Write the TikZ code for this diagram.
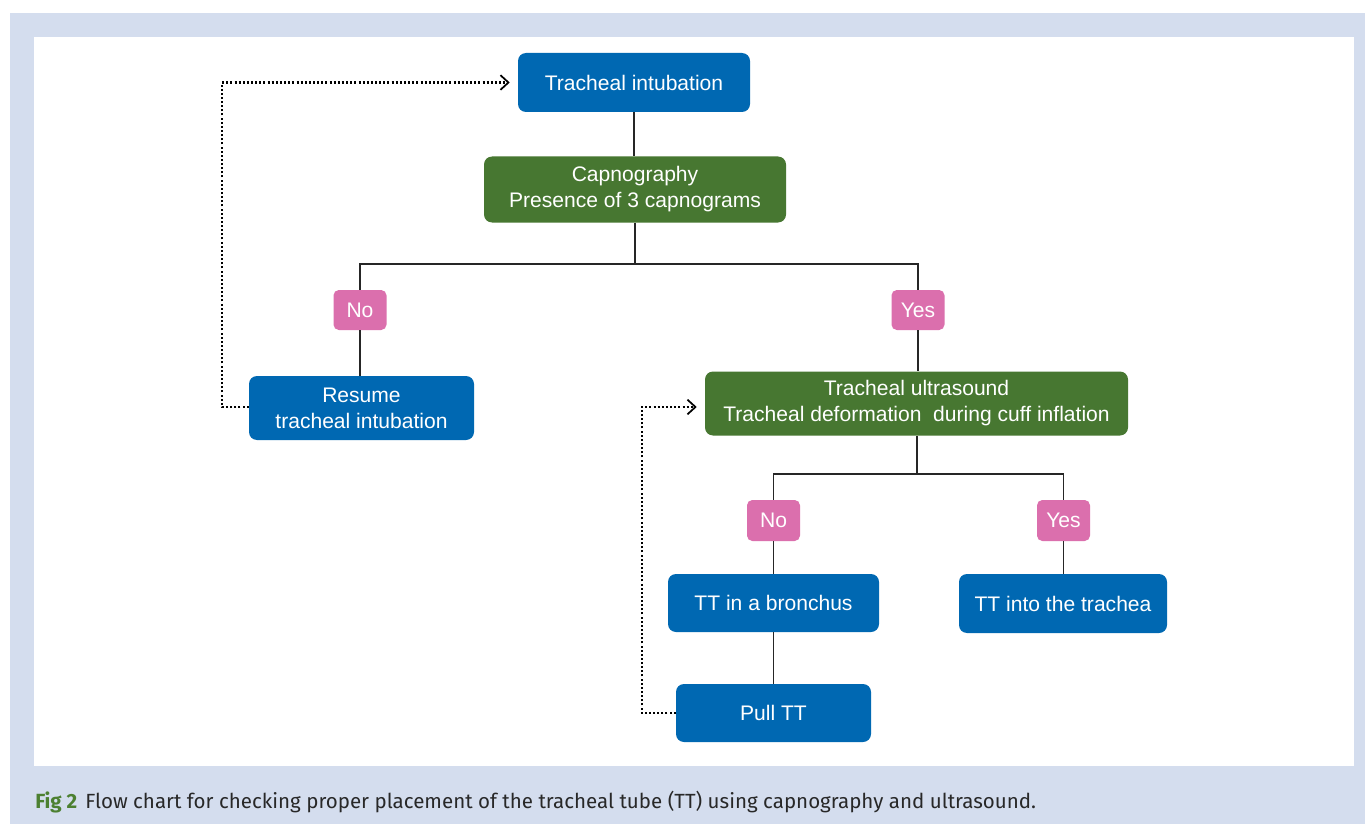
\documentclass[tikz,border=0pt]{standalone}
\usepackage{fontspec}
\setmainfont{Liberation Sans}
\newfontfamily\capfont{Fira Sans}
\usetikzlibrary{arrows.meta}
\definecolor{bgblue}{RGB}{212,221,238}
\definecolor{boxblue}{RGB}{0,104,178}
\definecolor{boxgreen}{RGB}{71,119,49}
\definecolor{boxpink}{RGB}{219,111,173}
\definecolor{figgreen}{RGB}{76,128,49}
\definecolor{captext}{RGB}{40,40,40}
\tikzset{
  box/.style={rounded corners=6pt, text=white, align=center, inner sep=0pt,
    font=\fontsize{15.8}{19.5}\selectfont},
  bluebox/.style={box, fill=boxblue},
  greenbox/.style={box, fill=boxgreen},
  twoline/.style={text depth=5pt},
  pinkbox/.style={box, fill=boxpink, rounded corners=4pt},
  link/.style={draw=black!85, line width=1.2pt},
  dotlink/.style={draw=black, line width=1.6pt, dash pattern=on 1.5pt off 1.6pt, -{Straight Barb[length=6pt,width=11pt,line width=1.3pt]}, shorten >=6pt}
}
\begin{document}
\begin{tikzpicture}[x=0.75pt,y=-0.75pt]
\useasboundingbox (0,0) rectangle (1365,824);
\fill[bgblue] (10,13) rectangle (1365,824);
\fill[white] (34,37) rectangle (1354,766);

\node[bluebox, minimum width=232*0.75pt, minimum height=59*0.75pt] (ti) at (634,82.5) {Tracheal intubation};
\node[greenbox, minimum width=302*0.75pt, minimum height=66*0.75pt] (cap) at (635,189.5) {\strut Capnography\\Presence of 3 capnograms\strut};
\node[pinkbox, minimum width=53*0.75pt, minimum height=40*0.75pt] (no1) at (360,310) {No};
\node[pinkbox, minimum width=53*0.75pt, minimum height=40*0.75pt] (yes1) at (918,310) {Yes};
\node[bluebox, minimum width=225*0.75pt, minimum height=64*0.75pt] (res) at (361.5,408) {Resume\\tracheal intubation};
\node[greenbox, minimum width=423*0.75pt, minimum height=64*0.75pt] (us) at (916.5,403.5) {Tracheal ultrasound\\Tracheal deformation\ \ during cuff inflation};
\node[pinkbox, minimum width=53*0.75pt, minimum height=41*0.75pt] (no2) at (773.5,520.5) {No};
\node[pinkbox, minimum width=53*0.75pt, minimum height=41*0.75pt] (yes2) at (1063.5,520.5) {Yes};
\node[bluebox, minimum width=211*0.75pt, minimum height=58*0.75pt] (bro) at (773.5,603) {TT in a bronchus};
\node[bluebox, minimum width=208*0.75pt, minimum height=59*0.75pt] (tra) at (1063,603.5) {TT into the trachea};
\node[bluebox, minimum width=195*0.75pt, minimum height=58*0.75pt] (pull) at (773.5,713) {Pull TT};

\coordinate (j1) at (635,264);
\coordinate (j2) at (917,474);
\coordinate (d1) at (222,0);
\coordinate (d2) at (642,0);

\draw[link] (ti) -- (ti.south |- cap.north);
\draw[link] (cap.south -| j1) -- (j1) -| (no1.north);
\draw[link] (j1) -| (yes1.north);
\draw[link] (no1) -- (no1.south |- res.north);
\draw[link] (yes1) -- (us.north -| yes1);
\draw[link] (us.south -| j2) -- (j2) -| (no2.north);
\draw[link] (j2) -| (yes2.north);
\draw[link] (no2) -- (bro);
\draw[link] (yes2) -- (tra.north -| yes2);
\draw[link] (bro) -- (pull);

\draw[dotlink] (res.west |- 0,407) -- (d1 |- 0,407) |- (ti.west);
\draw[dotlink] (pull.west) -- (pull.west -| d2) |- (us.west |- 0,407);

\node[anchor=base west, inner sep=0pt, font=\capfont\fontsize{15.4}{18}\selectfont] (caption) at (35,808)
  {\textcolor{figgreen}{\bfseries Fig 2}\hspace{6pt}\textcolor{captext}{Flow chart for checking proper placement of the tracheal tube (TT) using capnography and ultrasound.}};
\end{tikzpicture}
\end{document}
